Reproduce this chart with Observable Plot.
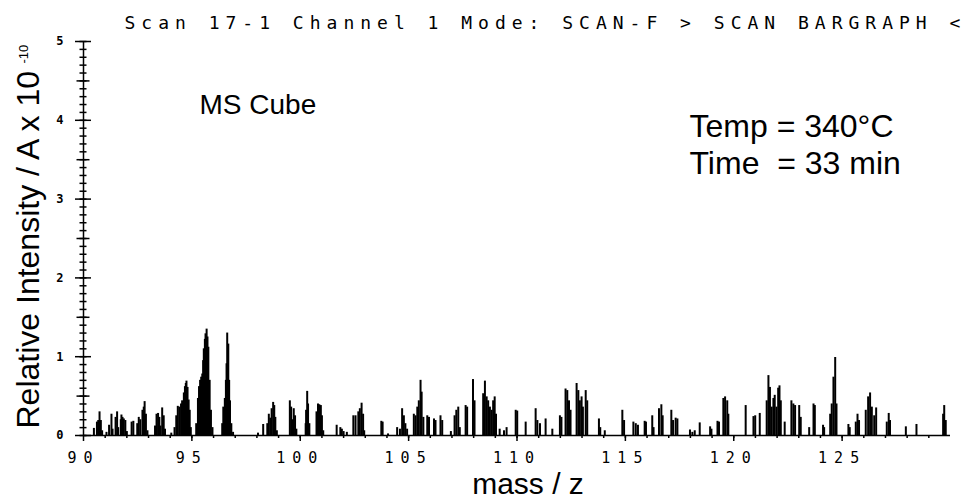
<!DOCTYPE html>
<html><head><meta charset="utf-8">
<script src="https://cdn.jsdelivr.net/npm/d3@7"></script>
<script src="https://cdn.jsdelivr.net/npm/@observablehq/plot@0.6"></script>
<style>
body{margin:0;background:#fff}
#chart svg{display:block}
g[aria-label="x-axis tick label"] text{letter-spacing:7px}
</style></head><body><div id="chart"></div>
<script>
const titleText = "Scan 17-1 Channel 1 Mode: SCAN-F > SCAN BARGRAPH <";
const xLabel = "mass / z";
const yLabel = "Relative Intensity / A x 10";
const yExponent = "-10";
const annotation1 = "MS Cube";
const annotation2 = "Temp = 340°C";
const annotation3 = "Time\u00a0 = 33 min";
const xMajorTicks = [90, 95, 100, 105, 110, 115, 120, 125];
const xMinorTicks = d3.range(91, 130, 1);
const yMajorTicks = [0, 1, 2, 3, 4, 5];
const yHalfTicks = [0.5, 1.5, 2.5, 3.5, 4.5];
const yMinorTicks = d3.range(0, 5.001, 0.1);

const mass = [
 90.48, 90.62, 90.68, 90.74, 90.80, 90.86, 91.06, 91.18, 91.29, 91.34, 91.48, 91.55, 91.60,
 91.72, 91.75, 91.80, 91.86, 91.93, 92.00, 92.22, 92.30, 92.48, 92.55, 92.62, 92.72, 92.78,
 92.82, 92.88, 92.95, 93.30, 93.37, 93.44, 93.50, 93.55, 93.63, 93.70, 93.76, 94.05, 94.20,
 94.28, 94.35, 94.42, 94.50, 94.55, 94.63, 94.68, 94.72, 94.75, 94.80, 94.85, 94.90, 94.95,
 95.20, 95.28, 95.33, 95.38, 95.43, 95.48, 95.52, 95.55, 95.60, 95.63, 95.68, 95.72, 95.76,
 95.82, 95.88, 95.95, 96.40, 96.45, 96.52, 96.57, 96.60, 96.63, 96.68, 96.72, 96.76, 96.82,
 96.90, 98.05, 98.29, 98.48, 98.55, 98.62, 98.68, 98.75, 98.80, 98.85, 98.92, 99.52, 99.58,
 99.64, 99.70, 99.76, 99.82, 100.25, 100.27, 100.32, 100.36, 100.42, 100.75, 100.82, 100.88,
 100.95, 101.00, 101.06, 101.68, 101.85, 101.92, 102.00, 102.15, 102.45, 102.55, 102.68,
 102.75, 102.83, 102.90, 102.95, 103.74, 103.80, 104.05, 104.47, 104.60, 104.70, 104.78,
 104.85, 104.93, 105.24, 105.32, 105.40, 105.47, 105.55, 105.60, 105.68, 105.86, 105.94,
 106.17, 106.24, 106.47, 106.55, 106.95, 107.12, 107.20, 107.29, 107.36, 107.63, 107.70,
 107.97, 108.04, 108.44, 108.52, 108.60, 108.67, 108.75, 108.83, 108.90, 108.97, 109.03,
 109.20, 109.40, 109.52, 109.94, 110.01, 110.40, 110.86, 110.94, 111.06, 111.32, 111.63,
 111.98, 112.05, 112.24, 112.32, 112.40, 112.47, 112.75, 112.83, 112.90, 112.98, 113.04,
 113.17, 113.24, 113.78, 113.84, 114.05, 114.86, 114.94, 115.37, 115.48, 115.58, 115.89,
 115.95, 116.24, 116.30, 116.55, 116.66, 116.72, 117.12, 117.20, 117.32, 117.40, 117.98,
 118.09, 118.20, 118.43, 118.91, 118.97, 119.25, 119.32, 119.52, 119.60, 119.70, 119.75,
 120.55, 120.91, 120.99, 121.20, 121.52, 121.60, 121.67, 121.75, 121.83, 121.89, 121.97,
 122.05, 122.11, 122.17, 122.35, 122.66, 122.75, 122.83, 123.02, 123.09, 123.48, 123.68,
 123.74, 124.12, 124.17, 124.45, 124.52, 124.60, 124.68, 124.74, 125.29, 125.35, 125.63,
 125.71, 125.78, 126.09, 126.20, 126.29, 126.37, 126.48, 126.57, 127.06, 127.15, 127.21,
 127.94, 128.43, 129.66, 129.71, 129.78
];
const intensity = [
 0.09, 0.17, 0.19, 0.30, 0.19, 0.06, 0.04, 0.13, 0.27, 0.08, 0.23, 0.30, 0.10,
 0.20, 0.26, 0.23, 0.21, 0.19, 0.05, 0.17, 0.18, 0.15, 0.23, 0.20, 0.32, 0.36,
 0.43, 0.27, 0.06, 0.12, 0.27, 0.28, 0.23, 0.12, 0.35, 0.25, 0.08, 0.03, 0.10,
 0.25, 0.37, 0.36, 0.40, 0.44, 0.54, 0.62, 0.66, 0.69, 0.61, 0.45, 0.32, 0.10,
 0.15, 0.47, 0.62, 0.70, 0.74, 0.78, 0.95, 1.10, 1.22, 1.29, 1.35, 1.25, 1.12,
 0.70, 0.32, 0.10, 0.15, 0.36, 0.47, 0.70, 0.91, 1.30, 1.16, 0.70, 0.44, 0.15,
 0.04, 0.03, 0.14, 0.15, 0.27, 0.22, 0.34, 0.42, 0.38, 0.23, 0.06, 0.44, 0.36,
 0.20, 0.34, 0.25, 0.08, 0.15, 0.32, 0.56, 0.40, 0.15, 0.30, 0.40, 0.39,
 0.38, 0.25, 0.06, 0.13, 0.10, 0.08, 0.05, 0.04, 0.25, 0.25, 0.30,
 0.34, 0.41, 0.27, 0.06, 0.18, 0.17, 0.02, 0.10, 0.08, 0.34, 0.25,
 0.15, 0.08, 0.27, 0.25, 0.36, 0.44, 0.70, 0.55, 0.23, 0.25, 0.23,
 0.21, 0.19, 0.25, 0.19, 0.05, 0.25, 0.32, 0.36, 0.10, 0.38, 0.36,
 0.71, 0.44, 0.53, 0.69, 0.49, 0.44, 0.36, 0.32, 0.44, 0.49, 0.27,
 0.08, 0.06, 0.10, 0.32, 0.31, 0.17, 0.34, 0.19, 0.15, 0.21, 0.08,
 0.25, 0.23, 0.59, 0.57, 0.44, 0.32, 0.66, 0.57, 0.44, 0.49, 0.36,
 0.57, 0.44, 0.21, 0.10, 0.06, 0.32, 0.19, 0.17, 0.15, 0.13, 0.18,
 0.17, 0.25, 0.10, 0.34, 0.39, 0.25, 0.32, 0.19, 0.22, 0.21, 0.07,
 0.04, 0.06, 0.16, 0.11, 0.08, 0.18, 0.17, 0.47, 0.49, 0.44, 0.27,
 0.38, 0.24, 0.25, 0.28, 0.44, 0.76, 0.61, 0.36, 0.47, 0.51, 0.36,
 0.60, 0.63, 0.44, 0.17, 0.44, 0.40, 0.38, 0.38, 0.23, 0.10, 0.40,
 0.38, 0.13, 0.10, 0.27, 0.40, 0.74, 0.99, 0.40, 0.14, 0.10, 0.17,
 0.27, 0.19, 0.32, 0.49, 0.54, 0.36, 0.25, 0.35, 0.17, 0.28, 0.19,
 0.11, 0.14, 0.27, 0.38, 0.19
];
const data = mass.map((m, i) => ({m, v: intensity[i]}));

const sans = "Liberation Sans, Arial, sans-serif";
const mono = "DejaVu Sans Mono, monospace";
const blank = () => "";

const plot = Plot.plot({
  width: 970, height: 500,
  marginLeft: 83, marginRight: 20, marginTop: 41, marginBottom: 65,
  style: {background: "#fff", color: "#000"},
  x: {domain: [90, 130], label: null},
  y: {domain: [0, 5], label: null},
  marks: [
    Plot.ruleX(data, {x: "m", y1: 0, y2: "v", stroke: "#000", strokeWidth: 2}),
    Plot.ruleY([0], {stroke: "#000", strokeWidth: 1.5}),
    Plot.ruleX([90], {stroke: "#000", strokeWidth: 1.5}),
    Plot.axisX({ticks: xMinorTicks, tickSize: 3, tickFormat: blank, label: null, strokeWidth: 1.5}),
    Plot.axisX({ticks: xMajorTicks, tickSize: 6, tickPadding: 11, fontSize: 15, fontFamily: mono, label: null, strokeWidth: 1.5}),
    Plot.axisY({ticks: yMinorTicks, tickSize: 3.5, tickFormat: blank, label: null, strokeWidth: 1.5}),
    Plot.axisY({ticks: yMinorTicks, tickSize: -3.5, tickFormat: blank, label: null, strokeWidth: 1.5}),
    Plot.axisY({ticks: yHalfTicks, tickSize: 6.5, tickFormat: blank, label: null, strokeWidth: 1.5}),
    Plot.axisY({ticks: yHalfTicks, tickSize: -6.5, tickFormat: blank, label: null, strokeWidth: 1.5}),
    Plot.axisY({ticks: yMajorTicks, tickSize: 8, tickFormat: blank, label: null, strokeWidth: 1.5}),
    Plot.axisY({ticks: yMajorTicks, tickSize: -8, tickFormat: blank, label: null, strokeWidth: 1.5}),
    Plot.axisY({ticks: yMajorTicks, tickSize: 0, tickPadding: 20, tickFormat: d3.format("d"), fontSize: 12, fontWeight: "bold", fontFamily: mono, label: null}),
    Plot.text([titleText], {frameAnchor: "top-left", dx: 41, dy: -13, textAnchor: "start", lineAnchor: "bottom", fontSize: 18, fontFamily: mono}),
    Plot.text([yLabel], {frameAnchor: "bottom-left", dx: -45, dy: -7, rotate: -90, textAnchor: "start", lineAnchor: "bottom", fontSize: 32, fontFamily: sans}),
    Plot.text([yExponent], {frameAnchor: "bottom-left", dx: -56, dy: -372, rotate: -90, textAnchor: "start", lineAnchor: "bottom", fontSize: 13, fontFamily: sans}),
    Plot.text([xLabel], {frameAnchor: "bottom", dx: 11, dy: 58, lineAnchor: "bottom", fontSize: 30, fontFamily: sans}),
    Plot.text([annotation1], {frameAnchor: "top-left", dx: 116, dy: 72, textAnchor: "start", lineAnchor: "bottom", fontSize: 28, fontFamily: sans}),
    Plot.text([annotation2], {frameAnchor: "top-left", dx: 606, dy: 95, textAnchor: "start", lineAnchor: "bottom", fontSize: 32, fontFamily: sans}),
    Plot.text([annotation3], {frameAnchor: "top-left", dx: 606, dy: 132, textAnchor: "start", lineAnchor: "bottom", fontSize: 32, fontFamily: sans})
  ]
});
plot.querySelectorAll("text").forEach(t => {
  if (t.textContent === titleText) t.style.letterSpacing = "6px";
});
document.getElementById("chart").appendChild(plot);
</script>
</body></html>
